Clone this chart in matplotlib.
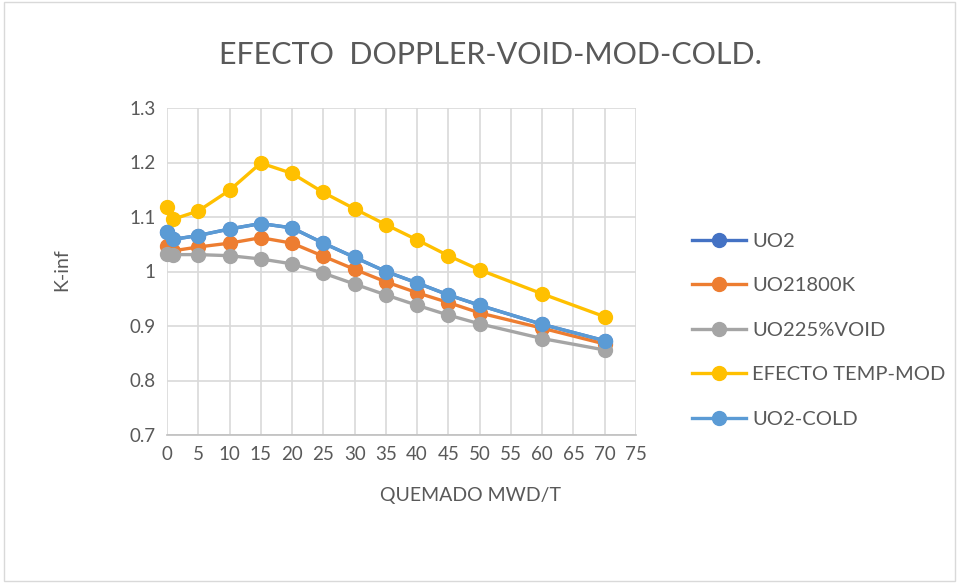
import matplotlib
matplotlib.use("Agg")
import matplotlib.pyplot as plt
from matplotlib.patches import Rectangle

plt.rcParams['font.family'] = ['Lato', 'DejaVu Sans']

quemado = [0, 1, 5, 10, 15, 20, 25, 30, 35, 40, 45, 50, 60, 70]

uo2_cold = [1.073, 1.059, 1.066, 1.078, 1.088, 1.080, 1.052, 1.026, 1.000, 0.979, 0.957, 0.938, 0.903, 0.873]
uo2 = list(uo2_cold)
uo2_1800k = [1.046, 1.038, 1.045, 1.052, 1.062, 1.052, 1.028, 1.004, 0.981, 0.961, 0.943, 0.924, 0.896, 0.867]
uo2_void = [1.032, 1.031, 1.031, 1.029, 1.023, 1.014, 0.997, 0.977, 0.957, 0.938, 0.920, 0.904, 0.877, 0.856]
temp_mod = [1.118, 1.096, 1.111, 1.149, 1.199, 1.180, 1.145, 1.115, 1.086, 1.058, 1.029, 1.003, 0.959, 0.917]

series = [
    ("UO2", uo2, "#4472C4"),
    ("UO21800K", uo2_1800k, "#ED7D31"),
    ("UO225%VOID", uo2_void, "#A5A5A5"),
    ("EFECTO TEMP-MOD", temp_mod, "#FFC000"),
    ("UO2-COLD", uo2_cold, "#5B9BD5"),
]

fig = plt.figure(figsize=(9.59, 5.83), dpi=100)
fig.patches.append(Rectangle((0.004, 0.004), 0.992, 0.992, transform=fig.transFigure,
                             fill=False, edgecolor="#D9D9D9", linewidth=1))
ax = fig.add_axes([167 / 959, 1 - 435 / 583, (636 - 167) / 959, (435 - 108) / 583])

for name, vals, col in series:
    ax.plot(quemado, vals, color=col, linewidth=2.4, marker="o", markersize=10,
            label=name, clip_on=False, zorder=3)

ax.set_xlim(0, 75)
ax.set_ylim(0.7, 1.3)
ax.set_xticks(range(0, 80, 5))
ax.set_yticks([0.7, 0.8, 0.9, 1.0, 1.1, 1.2, 1.3])
ax.set_yticklabels(["0.7", "0.8", "0.9", "1", "1.1", "1.2", "1.3"])
ax.grid(True, color="#D9D9D9", linewidth=1.2)
ax.set_axisbelow(True)
for s in ["top", "right", "left"]:
    ax.spines[s].set_visible(False)
ax.spines["bottom"].set_color("#BFBFBF")
ax.spines["bottom"].set_linewidth(1.2)
ax.tick_params(length=0, labelsize=13.5, labelcolor="#595959", pad=8)

fig.text(490 / 959, 1 - 55 / 583, "EFECTO  DOPPLER-VOID-MOD-COLD.", fontsize=22,
         color="#595959", ha="center", va="center")
fig.text(470 / 959, 1 - 495 / 583, "QUEMADO MWD/T", fontsize=14,
         color="#595959", ha="center", va="center")
fig.text(62 / 959, 1 - 270 / 583, "K-inf", fontsize=14, rotation=90,
         color="#595959", ha="center", va="center")

leg = ax.legend(loc="center left", bbox_to_anchor=(1.08, 0.32), frameon=False,
                fontsize=14.5, labelspacing=1.36, handlelength=2.7, handletextpad=0.3,
                labelcolor="#595959")

fig.savefig("out.png", dpi=100)
